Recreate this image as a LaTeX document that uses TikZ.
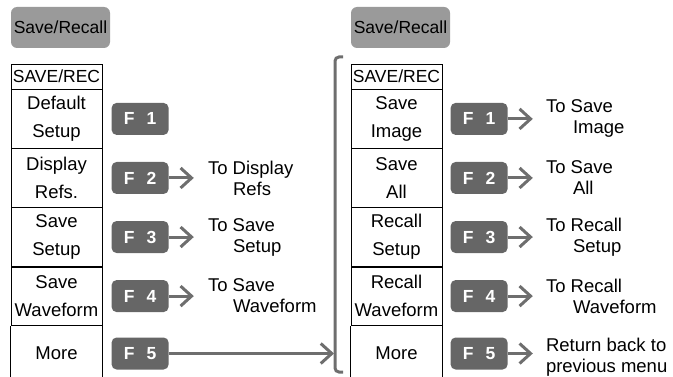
\documentclass[tikz,border=0pt]{standalone}
\usepackage{fontspec}
\setmainfont{Liberation Sans}
\usepackage{tikz}
\usetikzlibrary{arrows.meta,positioning}

\definecolor{btngray}{HTML}{9A9A9A}
\definecolor{keygray}{HTML}{666666}
\definecolor{arrgray}{HTML}{6E6E6E}

\begin{document}
\begin{tikzpicture}[
  x=1pt,y=-1pt,
  btn/.style={fill=btngray,rounded corners=6pt,minimum width=99pt,minimum height=41pt,
              inner sep=0pt,font=\fontsize{17.5}{20}\selectfont},
  head/.style={draw,line width=0.8pt,minimum width=91pt,minimum height=25pt,inner sep=0pt,
               font=\fontsize{17.5}{20}\selectfont},
  cell/.style={draw,line width=0.8pt,minimum width=91pt,minimum height=58.25pt,inner sep=0pt,
               align=center,font=\fontsize{18.5}{28}\selectfont},
  more/.style={cell,draw=none,minimum height=55pt},
  fkey/.style={fill=keygray,text=white,rounded corners=5pt,minimum width=57pt,
               minimum height=32pt,inner sep=0pt,font=\fontsize{17.5}{20}\selectfont\bfseries},
  lbl/.style={align=left,inner sep=0pt,font=\fontsize{18.5}{21}\selectfont},
  ar/.style={-{Straight Barb[length=11pt,width=20pt]},line width=3pt,draw=arrgray},
  brace/.style={line width=3pt,draw=arrgray,rounded corners=4pt}
]
\useasboundingbox (0,0) rectangle (673,377);

% left menu
\node[btn] (lbtn) at (60.5,27.5) {Save/Recall};
\node[head] (lhead) at (56.5,76.5) {SAVE/REC};
\node[cell, below=0pt of lhead] (l1) {Default\\Setup};
\node[cell, below=0pt of l1] (l2) {Display\\Refs.};
\node[cell, below=0pt of l2] (l3) {Save\\Setup};
\node[cell, below=0pt of l3] (l4) {Save\\Waveform};
\node[more, below=0pt of l4] (l5) {More};
\draw[line width=0.8pt] (l5.south west) -- (l5.north west) (l5.north east) -- (l5.south east);

\node[fkey, right=9pt of l1] (lk1) {F\hspace{0.7em}1};
\node[fkey, right=9pt of l2] (lk2) {F\hspace{0.7em}2};
\node[fkey, right=9pt of l3] (lk3) {F\hspace{0.7em}3};
\node[fkey, right=9pt of l4] (lk4) {F\hspace{0.7em}4};
\node[fkey, right=9pt of l5] (lk5) {F\hspace{0.7em}5};

\node[lbl, anchor=west] (lt2) at ([xshift=39pt]lk2.east) {To Display\\\hspace*{25pt}Refs};
\node[lbl, anchor=west] (lt3) at ([xshift=39pt]lk3.east) {To Save\\\hspace*{25pt}Setup};
\node[lbl, anchor=west] (lt4) at ([xshift=39pt]lk4.east) {To Save\\\hspace*{25pt}Waveform};

\draw[ar] (lk2.east) -- ([xshift=-14pt]lk2.east -| lt2.west);
\draw[ar] (lk3.east) -- ([xshift=-14pt]lk3.east -| lt3.west);
\draw[ar] (lk4.east) -- ([xshift=-14pt]lk4.east -| lt4.west);

% bracket
\coordinate (brt) at (343,57);
\coordinate (brb) at (343,372);
\coordinate (brx) at (334,0);
\draw[brace] (brt) -- ++(-8,0) |- (brb);
\draw[ar] (lk5.east) -- (lk5.east -| brx);

% right menu
\node[btn] (rbtn) at (400.5,27.5) {Save/Recall};
\node[head] (rhead) at (396.5,76.5) {SAVE/REC};
\node[cell, below=0pt of rhead] (r1) {Save\\Image};
\node[cell, below=0pt of r1] (r2) {Save\\All};
\node[cell, below=0pt of r2] (r3) {Recall\\Setup};
\node[cell, below=0pt of r3] (r4) {Recall\\Waveform};
\node[more, below=0pt of r4] (r5) {More};
\draw[line width=0.8pt] (r5.south west) -- (r5.north west) (r5.north east) -- (r5.south east);

\node[fkey, right=8pt of r1] (rk1) {F\hspace{0.7em}1};
\node[fkey, right=8pt of r2] (rk2) {F\hspace{0.7em}2};
\node[fkey, right=8pt of r3] (rk3) {F\hspace{0.7em}3};
\node[fkey, right=8pt of r4] (rk4) {F\hspace{0.7em}4};
\node[fkey, right=8pt of r5] (rk5) {F\hspace{0.7em}5};

\node[lbl, anchor=west] (rt1) at ([xshift=38pt]rk1.east) {To Save\\\hspace*{27pt}Image};
\node[lbl, anchor=west] (rt2) at ([xshift=38pt]rk2.east) {To Save\\\hspace*{27pt}All};
\node[lbl, anchor=west] (rt3) at ([xshift=38pt]rk3.east) {To Recall\\\hspace*{27pt}Setup};
\node[lbl, anchor=west] (rt4) at ([xshift=38pt]rk4.east) {To Recall\\\hspace*{27pt}Waveform};
\node[lbl, anchor=west] (rt5) at ([xshift=38pt,yshift=-4pt]rk5.east) {Return back to\\previous menu};

\draw[ar] (rk1.east) -- ([xshift=-13pt]rk1.east -| rt1.west);
\draw[ar] (rk2.east) -- ([xshift=-13pt]rk2.east -| rt2.west);
\draw[ar] (rk3.east) -- ([xshift=-13pt]rk3.east -| rt3.west);
\draw[ar] (rk4.east) -- ([xshift=-13pt]rk4.east -| rt4.west);
\draw[ar] (rk5.east) -- ([xshift=-13pt]rk5.east -| rt5.west);
\end{tikzpicture}
\end{document}
